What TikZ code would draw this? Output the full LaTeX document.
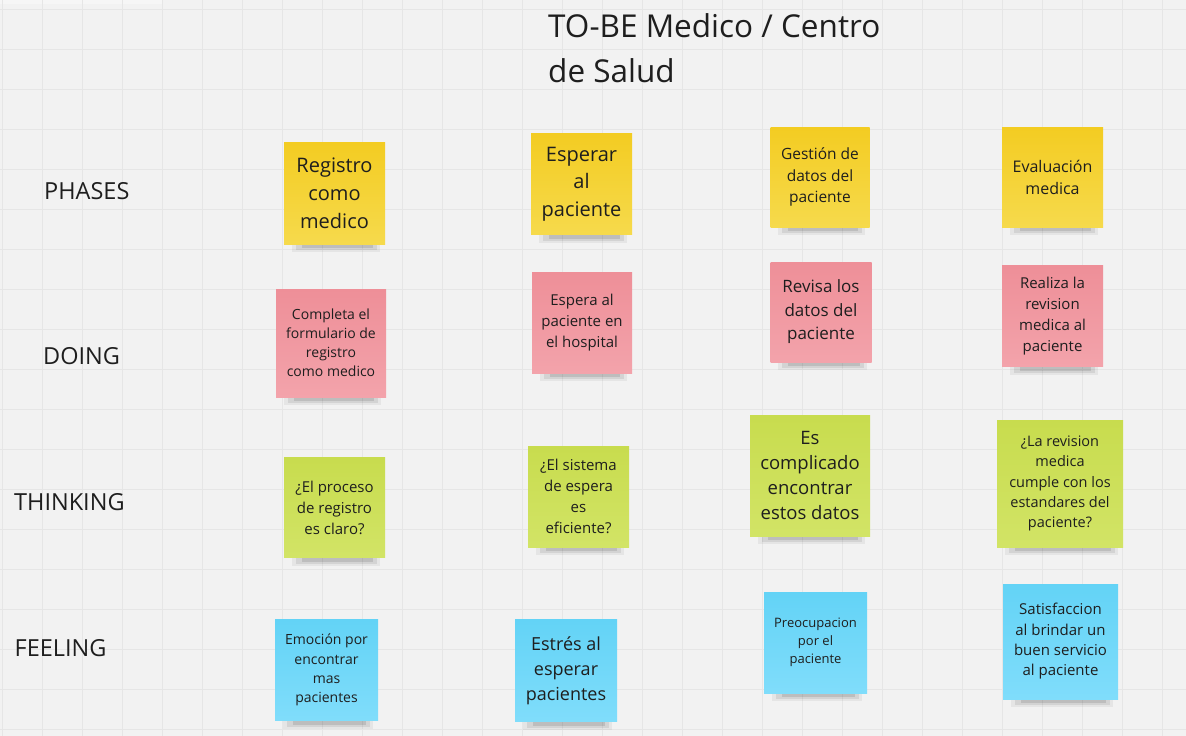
\documentclass[tikz,border=0pt]{standalone}
\usepackage{fontspec}
\setmainfont{Open Sans}
\pgfdeclarelayer{gridlayer}
\pgfdeclarelayer{shadowlayer}
\pgfsetlayers{gridlayer,shadowlayer,main}
\definecolor{bgc}{HTML}{F2F2F2}
\definecolor{gridc}{HTML}{E6E6E6}
\definecolor{txt}{HTML}{1E1E1E}
\definecolor{yelT}{HTML}{F3CC22}
\definecolor{yelB}{HTML}{F6DA4C}
\definecolor{pinkT}{HTML}{EE8F98}
\definecolor{pinkB}{HTML}{F3A3AB}
\definecolor{grnT}{HTML}{C8DC4E}
\definecolor{grnB}{HTML}{D2E466}
\definecolor{bluT}{HTML}{63D3F6}
\definecolor{bluB}{HTML}{80DDFB}
\newcommand\fsz[2]{\fontsize{#1}{#2}\selectfont}
\begin{document}
\begin{tikzpicture}[x=1pt,y=-1pt,
  sticky/.style={inner sep=1pt, align=center, text=txt},
  yel/.style={sticky, top color=yelT, bottom color=yelB},
  pnk/.style={sticky, top color=pinkT, bottom color=pinkB},
  grn/.style={sticky, top color=grnT, bottom color=grnB},
  blu/.style={sticky, top color=bluT, bottom color=bluB},
  rowlabel/.style={anchor=west, inner sep=0pt, text=txt, font=\fsz{23.5}{28}},
  sz/.style n args={2}{minimum width=#1pt, minimum height=#2pt}]
\useasboundingbox (0,0) rectangle (1186,736);
\begin{pgfonlayer}{gridlayer}
  \fill[bgc] (0,0) rectangle (1186,736);
  \fill[white, opacity=.35] (0,0) rectangle (162,4);
  \foreach \gx in {2,42,...,1186} \draw[gridc, line width=1pt] (\gx,0) -- (\gx,736);
  \foreach \gy in {9,49,...,736} \draw[gridc, line width=1pt] (0,\gy) -- (1186,\gy);
\end{pgfonlayer}

% title
\node[anchor=north west, inner sep=0pt, align=left, text=txt, font=\fsz{31.5}{45}] (title) at (548,13) {TO-BE Medico / Centro\\de Salud};

% row labels
\node[rowlabel] (lphases) at (44,191) {PHASES};
\node[rowlabel] (ldoing) at (43,356.5) {DOING};
\node[rowlabel] (lthinking) at (14,502.5) {THINKING};
\node[rowlabel] (lfeeling) at (14.5,648) {FEELING};

% phases
\node[yel, sz={101}{102}, font=\fsz{20}{28}] (p1) at (334.5,193) {Registro\\como\\medico};
\node[yel, sz={101}{101}, font=\fsz{20}{27.5}] (p2) at (581.5,184) {Esperar\\al\\paciente};
\node[yel, sz={99}{100}, font=\fsz{15.5}{21.5}] (p3) at (820,177) {Gestión de\\datos del\\paciente};
\node[yel, sz={101}{100}, font=\fsz{16}{22}] (p4) at (1052.5,177) {Evaluación\\medica};

% doing
\node[pnk, sz={110}{108}, font=\fsz{14}{19}] (d1) at (331,343) {Completa el\\formulario de\\registro\\como medico};
\node[pnk, sz={100}{101}, font=\fsz{15}{21}] (d2) at (582,322.5) {Espera al\\paciente en\\el hospital};
\node[pnk, sz={101}{100}, font=\fsz{17}{23.5}] (d3) at (821,312) {Revisa los\\datos del\\paciente};
\node[pnk, sz={101}{101}, font=\fsz{15}{21}] (d4) at (1052.5,316) {Realiza la\\revision\\medica al\\paciente};

% thinking
\node[grn, sz={101}{100}, font=\fsz{15}{21}] (t1) at (334.5,507.5) {¿El proceso\\de registro\\es claro?};
\node[grn, sz={101}{101}, font=\fsz{15}{21}] (t2) at (578.5,496.5) {¿El sistema\\de espera\\es\\eficiente?};
\node[grn, sz={120}{121}, font=\fsz{18.5}{25}] (t3) at (810,475.5) {Es\\complicado\\encontrar\\estos datos};
\node[grn, sz={126}{127}, font=\fsz{14.5}{20.2}] (t4) at (1060,483.5) {¿La revision\\medica\\cumple con los\\estandares del\\paciente?};

% feeling
\node[blu, sz={103}{101}, font=\fsz{14}{19.3}] (f1) at (326.5,670) {Emoción por\\encontrar\\mas\\pacientes};
\node[blu, sz={102}{102}, font=\fsz{18}{25}] (f2) at (566,670.5) {Estrés al\\esperar\\pacientes};
\node[blu, sz={103}{101}, font=\fsz{13}{18}] (f3) at (815.5,642.5) {Preocupacion\\por el\\paciente};
\node[blu, sz={115}{115}, font=\fsz{15}{20.3}] (f4) at (1060.5,641.5) {Satisfaccion\\al brindar un\\buen servicio\\al paciente};

\begin{pgfonlayer}{shadowlayer}
  \foreach \n in {p1,p2,p3,p4,d1,d2,d3,d4,t1,t2,t3,t4,f1,f2,f3,f4} {
    \fill[black, opacity=.05] ([xshift=8pt,yshift=2pt]\n.south west) rectangle ([xshift=-5pt,yshift=-8pt]\n.south east);
    \fill[black, opacity=.08] ([xshift=12pt,yshift=2pt]\n.south west) rectangle ([xshift=-8pt,yshift=-6pt]\n.south east);
    \fill[black, opacity=.10] ([xshift=18pt,yshift=2pt]\n.south west) rectangle ([xshift=-12pt,yshift=-4pt]\n.south east);
  }
\end{pgfonlayer}
\end{tikzpicture}
\end{document}
